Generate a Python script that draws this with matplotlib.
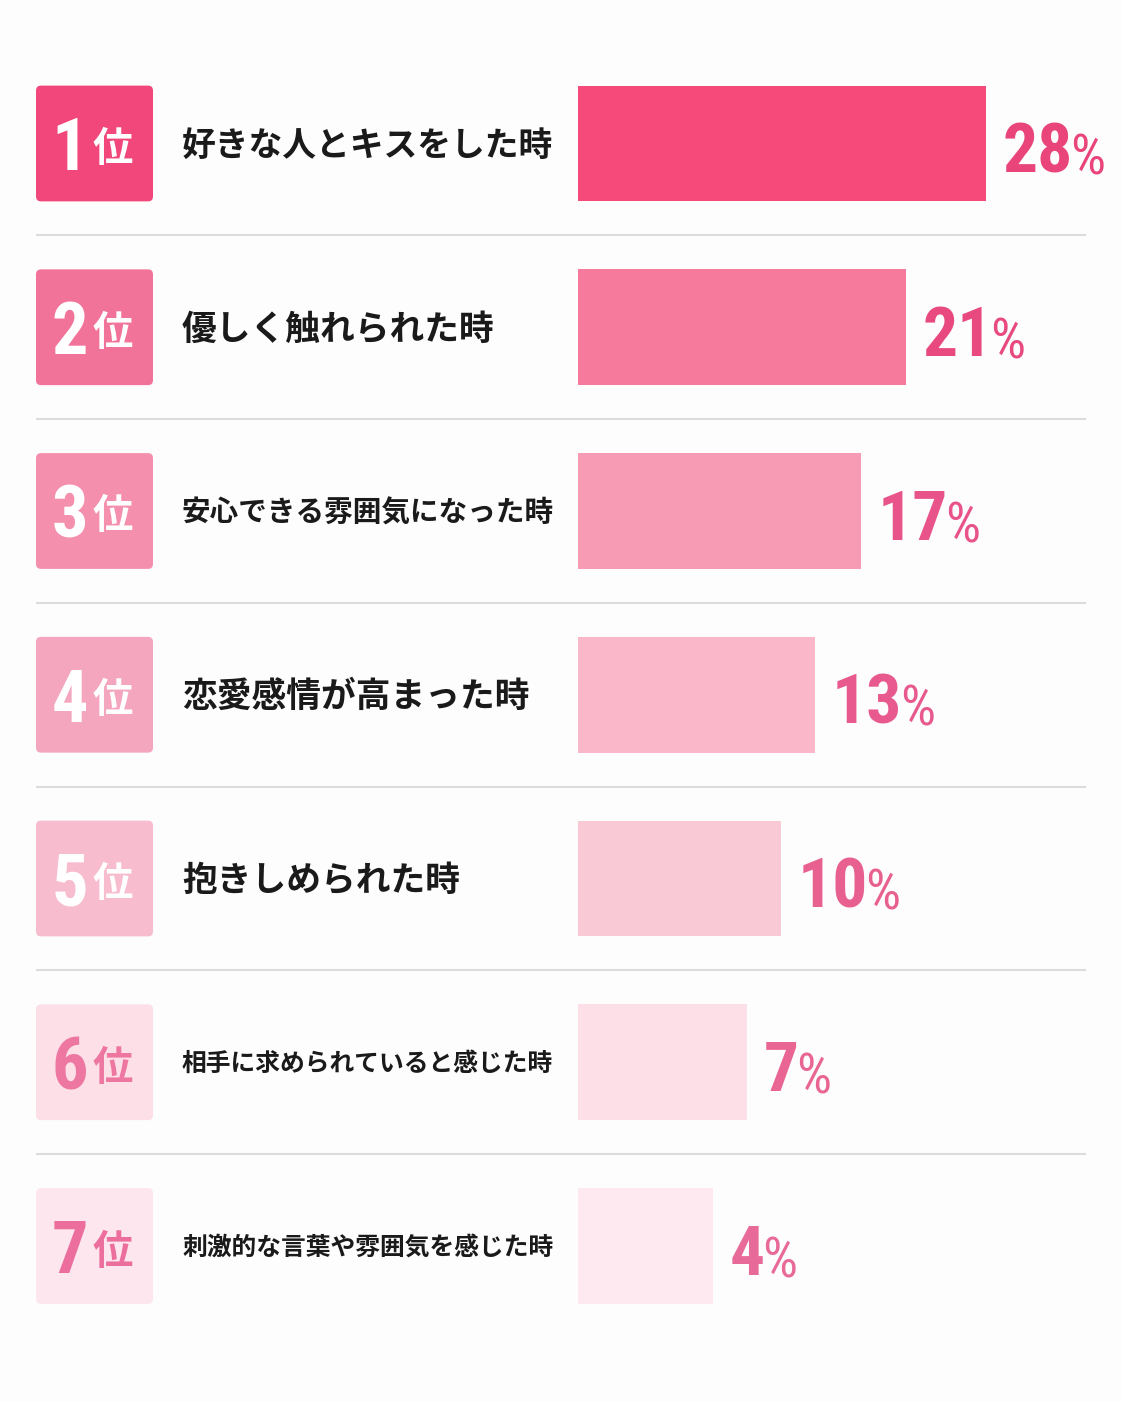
import matplotlib
matplotlib.use("Agg")
import matplotlib.pyplot as plt
from matplotlib.patches import FancyBboxPatch

# データ
ranks = [1, 2, 3, 4, 5, 6, 7]
labels = [
    "好きな人とキスをした時",
    "優しく触れられた時",
    "安心できる雰囲気になった時",
    "恋愛感情が高まった時",
    "抱きしめられた時",
    "相手に求められていると感じた時",
    "刺激的な言葉や雰囲気を感じた時",
]
values = [28, 21, 17, 13, 10, 7, 4]

# 色
box_colors = ["#F1477A", "#F2739A", "#F48FAE", "#F5A6BF", "#F7BDCF", "#FCDFE7", "#FDE6ED"]
bar_colors = ["#F54A7A", "#F57A9C", "#F79BB5", "#F9B7C9", "#FAC9D6", "#FCDFE7", "#FDE9EF"]
num_colors = ["white", "white", "white", "white", "white", "#EE77A2", "#EC6E9D"]
pct_colors = ["#E9457A", "#E84A7F", "#E8548A", "#E85A8E", "#E8608F", "#E96694", "#E86A98"]

W, H = 1122, 1402
ROW0, PITCH = 143.5, 183.75
BAR_H = 0.63
BASE = 7.9  # バーの左端の余白 (%)

JP = ["Noto Sans CJK JP", "DejaVu Sans"]
NUM = ["Roboto Condensed", "DejaVu Sans"]

fig = plt.figure(figsize=(W / 100, H / 100), dpi=100)
fig.patch.set_facecolor("#FDFDFD")

# レイアウト用 (ピクセル座標)
bg = fig.add_axes([0, 0, 1, 1])
bg.set_xlim(0, W)
bg.set_ylim(H, 0)
bg.axis("off")

# バー用
ax = fig.add_axes([578 / W, 0, (W - 578) / W, 1])
ax.set_xlim(-BASE, 40)
ax.set_ylim((H - ROW0) / PITCH, -ROW0 / PITCH)
ax.axis("off")

rows = list(range(len(values)))
ax.barh(rows, [v + BASE for v in values], left=-BASE, height=BAR_H,
        color=bar_colors, edgecolor="none")

box_h = BAR_H * PITCH
for i in rows:
    cy = ROW0 + PITCH * i
    box = FancyBboxPatch((36, cy - box_h / 2), 117, box_h,
                         boxstyle="round,pad=0,rounding_size=5",
                         facecolor=box_colors[i], edgecolor="none")
    bg.add_patch(box)
    bg.text(88, cy + 27, str(ranks[i]), ha="right", va="baseline",
            fontsize=52, fontweight="bold", fontstretch="condensed",
            family=NUM, color=num_colors[i])
    bg.text(93, cy + 6, "位", ha="left", va="center",
            fontsize=29, fontweight="bold", family=JP, color=num_colors[i])
    t = bg.text(182, cy + 2, labels[i], ha="left", va="center",
                fontsize=25, fontweight="bold", family=JP, color="#1A1A1A")
    t._fit = True
    if i < len(values) - 1:
        bg.plot([36, 1086], [cy + PITCH / 2, cy + PITCH / 2],
                color="#DCDCDC", lw=1.5, solid_capstyle="butt")

    num = ax.annotate(str(values[i]), xy=(values[i], i + 0.157),
                      xytext=(12, 0), textcoords="offset points",
                      ha="left", va="baseline", fontsize=50, fontweight="bold",
                      fontstretch="condensed", family=NUM, color=pct_colors[i])
    ax.annotate("%", xy=(1, 0), xycoords=num, xytext=(-2, 0.5),
                textcoords="offset points", ha="left", va="bottom",
                fontsize=40, fontstretch="condensed", family=NUM,
                color=pct_colors[i])

# 長いラベルは幅に収める
fig.canvas.draw()
r = fig.canvas.get_renderer()
max_w = 372
for t in bg.texts:
    if getattr(t, "_fit", False):
        w = t.get_window_extent(r).width
        if w > max_w:
            t.set_fontsize(25 * max_w / w)

fig.savefig("out.png", dpi=100, facecolor=fig.get_facecolor())
